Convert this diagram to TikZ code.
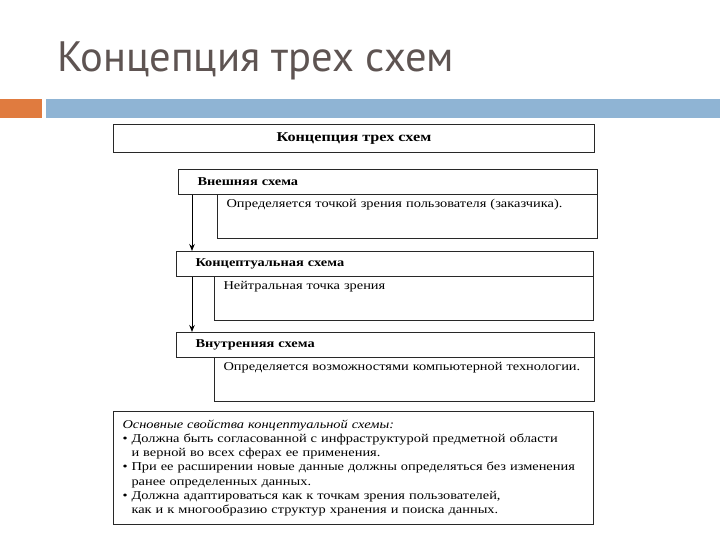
\documentclass[tikz,border=0pt]{standalone}
\usepackage{fontspec}
\setmainfont[FakeStretch=1.2]{Liberation Serif}
\newfontfamily\titlefont{PT Sans}
\usepackage{xcolor}
\usetikzlibrary{arrows.meta}
\definecolor{titlegray}{RGB}{94,84,82}
\definecolor{barorange}{RGB}{224,123,63}
\definecolor{barblue}{RGB}{143,180,212}
\definecolor{boxline}{RGB}{40,40,40}
\begin{document}
\begin{tikzpicture}[x=1pt, y=-1pt,
    box/.style={draw=boxline, line width=1pt, rectangle, anchor=north west, inner sep=0pt},
    hdr/.style={box, inner xsep=19pt, minimum height=25pt, align=left, font=\bfseries\fontsize{12}{14}\selectfont},
    txt/.style={box, inner xsep=9pt, inner ysep=5pt, text height=8pt, text depth=26pt, align=left, font=\fontsize{12}{14}\selectfont},
    arr/.style={-{Stealth[length=7pt,width=5.5pt]}, line width=1pt}]
    \useasboundingbox (0,0) rectangle (720,540);
    \fill[white] (0,0) rectangle (720,540);

    % Slide title and bar
    \node[anchor=base west, inner sep=0pt, text=titlegray, font=\titlefont\fontsize{42.5}{46}\selectfont] (title) at (57,72) {Концепция трех схем};
    \fill[barorange] (0,99) rectangle (42,118);
    \fill[barblue] (46,99) rectangle (720,118);

    % Top box
    \node[box, minimum width=481pt, minimum height=28pt, font=\bfseries\fontsize{13.5}{15}\selectfont] (top) at (113,124) {Концепция трех схем};

    % Three schemes
    \node[hdr, text width=381pt] (ext) at (178,169) {Внешняя схема};
    \node[txt, text width=362pt] (extT) at (217,194) {Определяется точкой зрения пользователя (заказчика).};
    \node[hdr, text width=379pt] (conc) at (176,251) {Концептуальная схема};
    \node[txt, text width=361pt] (concT) at (214,276) {Нейтральная точка зрения};
    \node[hdr, text width=380pt] (int) at (176,332) {Внутренняя схема};
    \node[txt, text width=362pt] (intT) at (214,357) {Определяется возможностями компьютерной технологии.};

    % Arrows
    \draw[arr] ([xshift=14pt]ext.south west) -- ([xshift=14pt]ext.south west |- conc.north);
    \draw[arr] ([xshift=16pt]conc.south west) -- ([xshift=16pt]conc.south west |- int.north);

    % Properties box
    \node[box, minimum width=480pt, minimum height=111pt, inner xsep=9pt, inner ysep=8pt, text width=462pt, align=left, font=\fontsize{12}{14.3}\selectfont] (prop) at (113,411)
      {\textit{Основные свойства концептуальной схемы:}\\
       • Должна быть согласованной с инфраструктурой предметной области\\
       \hphantom{• }и верной во всех сферах ее применения.\\
       • При ее расширении новые данные должны определяться без изменения\\
       \hphantom{• }ранее определенных данных.\\
       • Должна адаптироваться как к точкам зрения пользователей,\\
       \hphantom{• }как и к многообразию структур хранения и поиска данных.};
\end{tikzpicture}
\end{document}
